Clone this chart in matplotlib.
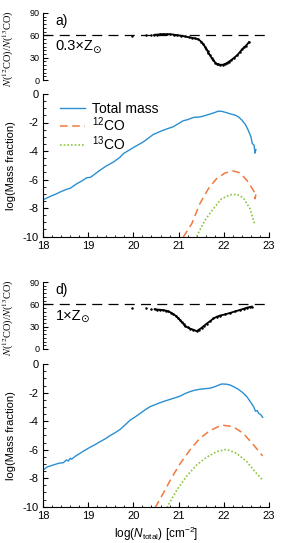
import matplotlib
matplotlib.use("Agg")
import matplotlib.pyplot as plt
from matplotlib.ticker import MultipleLocator

plt.rcParams['font.family'] = ['Liberation Sans', 'DejaVu Sans']
plt.rcParams['mathtext.fontset'] = 'custom'
plt.rcParams['mathtext.rm'] = 'Liberation Sans'
plt.rcParams['mathtext.it'] = 'Liberation Sans:italic'
plt.rcParams['mathtext.bf'] = 'Liberation Sans:bold'

# ---------------- data ----------------
# panel a (0.3 Z_sun): 12CO/13CO column ratio
ratio_a_x = [19.96, 20.28, 20.40, 20.46, 20.52, 20.59, 20.66, 20.74, 20.81, 20.89, 20.96,
             21.05, 21.14, 21.22, 21.29, 21.37, 21.44, 21.50, 21.55, 21.58, 21.61, 21.64,
             21.66, 21.70, 21.73, 21.77, 21.81, 21.84, 21.87, 21.92, 21.98, 22.02, 22.06,
             22.11, 22.17, 22.23, 22.29, 22.35, 22.40, 22.45, 22.49, 22.56]
ratio_a_y = [58.5, 60.0, 60.5, 60.7, 61.0, 61.4, 61.6, 61.6, 61.4, 61.0, 60.3,
             59.5, 58.5, 57.5, 56.7, 55.8, 54.5, 51.5, 48.0, 45.0, 42.0, 39.0,
             36.0, 33.0, 29.5, 26.5, 23.5, 22.0, 21.0, 20.5, 20.5, 21.5, 22.5,
             24.5, 27.0, 30.0, 33.0, 37.0, 41.0, 44.0, 46.0, 51.0]
# panel a: log mass fractions
tot_a_x = [18.00, 18.15, 18.30, 18.40, 18.52, 18.60, 18.75, 18.85, 18.97, 19.05, 19.26,
           19.40, 19.56, 19.70, 19.78, 20.00, 20.22, 20.44, 20.66, 20.88, 21.10, 21.20,
           21.33, 21.45, 21.55, 21.69, 21.80, 21.88, 21.96, 22.06, 22.15, 22.25, 22.33,
           22.40, 22.48, 22.54, 22.60, 22.63, 22.67, 22.69, 22.71]
tot_a_y = [-7.42, -7.20, -7.00, -6.85, -6.69, -6.62, -6.29, -6.12, -5.87, -5.85, -5.35,
           -5.05, -4.77, -4.45, -4.18, -3.76, -3.36, -2.84, -2.54, -2.30, -1.88, -1.80,
           -1.64, -1.62, -1.55, -1.41, -1.30, -1.20, -1.22, -1.31, -1.40, -1.48, -1.62,
           -1.83, -2.15, -2.54, -3.00, -3.47, -3.60, -4.15, -3.90]
co12_a_x = [21.10, 21.29, 21.47, 21.66, 21.84, 22.03, 22.21, 22.36, 22.51, 22.63, 22.67, 22.69, 22.71]
co12_a_y = [-10.05, -9.11, -7.70, -6.64, -5.94, -5.54, -5.40, -5.54, -6.06, -6.64, -6.85, -7.35, -7.05]
co13_a_x = [21.40, 21.58, 21.77, 21.95, 22.14, 22.29, 22.43, 22.58, 22.67, 22.69]
co13_a_y = [-10.0, -8.87, -8.05, -7.35, -7.07, -7.04, -7.28, -8.05, -8.99, -9.20]

# panel d (1 Z_sun)
ratio_d_x = [19.96, 20.28, 20.40, 20.47, 20.52, 20.59, 20.66, 20.72, 20.77, 20.83, 20.88,
             20.94, 20.99, 21.03, 21.07, 21.11, 21.14, 21.20, 21.25, 21.32, 21.40, 21.45,
             21.51, 21.56, 21.62, 21.70, 21.77, 21.85, 21.92, 22.03, 22.14, 22.25, 22.36,
             22.44, 22.51, 22.57, 22.62]
ratio_d_y = [55.0, 55.0, 54.0, 53.5, 53.0, 52.7, 52.3, 51.5, 50.5, 49.0, 47.0,
             44.5, 41.5, 39.0, 36.0, 33.5, 31.0, 29.0, 27.5, 26.0, 24.0, 26.0,
             28.5, 31.0, 34.0, 37.5, 41.0, 43.5, 45.0, 46.5, 48.5, 50.5, 52.5,
             54.0, 55.5, 56.3, 57.0]
tot_d_x = [18.00, 18.10, 18.23, 18.35, 18.45, 18.52, 18.56, 18.60, 18.63, 18.72, 18.82,
           18.92, 19.04, 19.15, 19.26, 19.37, 19.48, 19.60, 19.71, 19.82, 19.93, 20.04,
           20.15, 20.26, 20.37, 20.48, 20.59, 20.70, 20.81, 20.92, 21.04, 21.15, 21.25,
           21.36, 21.47, 21.58, 21.69, 21.80, 21.95, 22.05, 22.14, 22.23, 22.32, 22.42,
           22.51, 22.58, 22.66, 22.70, 22.74, 22.77, 22.82, 22.86]
tot_d_y = [-7.42, -7.20, -7.07, -6.95, -6.91, -6.72, -6.80, -6.60, -6.67, -6.45, -6.25,
           -6.05, -5.83, -5.65, -5.44, -5.25, -5.02, -4.80, -4.57, -4.25, -3.92, -3.70,
           -3.45, -3.20, -2.98, -2.84, -2.70, -2.58, -2.47, -2.36, -2.23, -2.05, -1.93,
           -1.82, -1.76, -1.72, -1.69, -1.58, -1.39, -1.40, -1.46, -1.60, -1.76, -2.00,
           -2.28, -2.60, -2.98, -3.30, -3.25, -3.45, -3.55, -3.73]
co12_d_x = [20.48, 20.66, 20.85, 21.03, 21.25, 21.47, 21.69, 21.95, 22.21, 22.43, 22.66, 22.86]
co12_d_y = [-10.07, -9.06, -7.94, -7.00, -6.02, -5.20, -4.67, -4.27, -4.39, -4.85, -5.67, -6.44]
co13_d_x = [20.74, 20.96, 21.18, 21.40, 21.62, 21.84, 22.06, 22.28, 22.51, 22.69, 22.86]
co13_d_y = [-10.07, -8.83, -7.85, -7.07, -6.53, -6.14, -5.97, -6.25, -6.84, -7.54, -8.13]

ratio_ref = 60
ratio_ticks = [0, 30, 60, 90]
frac_ticks = [0, -2, -4, -6, -8, -10]
x_ticks = [18, 19, 20, 21, 22, 23]

panel_labels = ['a)', 'd)']
metal_labels = ['0.3×Z', '1×Z']
sun_symbol = '⊙'
series_labels = ['Total mass', r'$^{12}$CO', r'$^{13}$CO']

c_tot = '#2b8fd2'
c_12 = '#f07a3e'
c_13 = '#8cc63f'

# ---------------- figure ----------------
W, H = 284, 543
fig = plt.figure(figsize=(W / 100, H / 100), dpi=100)

def rect(top_px, bot_px):
    left, right = 43, 269
    return [left / W, 1 - bot_px / H, (right - left) / W, (bot_px - top_px) / H]

layout = [((13, 80), (94, 236.5)), ((282, 349), (364.2, 506.7))]
datasets = [
    (ratio_a_x, ratio_a_y, tot_a_x, tot_a_y, co12_a_x, co12_a_y, co13_a_x, co13_a_y),
    (ratio_d_x, ratio_d_y, tot_d_x, tot_d_y, co12_d_x, co12_d_y, co13_d_x, co13_d_y),
]

for i, ((tr, br), data) in enumerate(zip(layout, datasets)):
    rx, ry, tx, ty, c12x, c12y, c13x, c13y = data
    # ---- ratio panel ----
    axt = fig.add_axes(rect(*tr))
    axt.set_xlim(18, 23)
    axt.set_ylim(0, 90)
    for s in ['top', 'right', 'bottom']:
        axt.spines[s].set_visible(False)
    axt.spines['left'].set_linewidth(0.8)
    axt.set_xticks([])
    axt.set_yticks(ratio_ticks)
    axt.yaxis.set_minor_locator(MultipleLocator(5))
    axt.tick_params(axis='y', which='major', direction='in', length=3.5, width=0.8,
                    labelsize=6.5, pad=2.5)
    axt.tick_params(axis='y', which='minor', direction='in', length=1.8, width=0.6)
    axt.axhline(ratio_ref, color='black', lw=0.9, dashes=(8, 5))
    axt.plot(rx, ry, 'o', color='black', ms=1.8, mew=0, clip_on=False)
    dense = [k for k, v in enumerate(rx) if v >= 20.44]
    axt.plot([rx[k] for k in dense], [ry[k] for k in dense], '-', color='black', lw=1.3)
    axt.set_ylabel(r'$N$($^{12}$CO)/$N$($^{13}$CO)', fontsize=7.5,
                   family='Liberation Serif', math_fontfamily='stix')
    axt.yaxis.set_label_coords(-0.118, 0.47)
    axt.text(0.055, 0.98, panel_labels[i], transform=axt.transAxes, fontsize=10,
             va='top', ha='left')
    mt = axt.text(0.055, 0.50, metal_labels[i], transform=axt.transAxes, fontsize=10.5,
                  va='center', ha='left')
    axt.annotate(sun_symbol, xy=(1.0, 0.0), xycoords=mt, xytext=(-0.6, -1.2),
                 textcoords='offset points', fontsize=7.5, family='DejaVu Sans',
                 ha='left', va='bottom')

    # ---- mass fraction panel ----
    axb = fig.add_axes(rect(*br))
    axb.set_xlim(18, 23)
    axb.set_ylim(-10, 0)
    for s in ['top', 'right']:
        axb.spines[s].set_visible(False)
    axb.spines['left'].set_linewidth(0.8)
    axb.spines['bottom'].set_linewidth(0.8)
    axb.set_xticks(x_ticks)
    axb.set_yticks(frac_ticks)
    axb.set_yticklabels([str(v) for v in frac_ticks])
    axb.xaxis.set_minor_locator(MultipleLocator(0.2))
    axb.yaxis.set_minor_locator(MultipleLocator(0.5))
    axb.tick_params(which='major', direction='in', length=3.5, width=0.8,
                    labelsize=8, pad=3)
    axb.tick_params(which='minor', direction='in', length=1.8, width=0.6)
    l1, = axb.plot(tx, ty, '-', color=c_tot, lw=1.0)
    l2, = axb.plot(c12x, c12y, color=c_12, lw=1.1, dashes=(5, 3))
    l3, = axb.plot(c13x, c13y, color=c_13, lw=1.2, dashes=(1, 1.2))
    axb.set_ylabel('log(Mass fraction)', fontsize=8)
    axb.yaxis.set_label_coords(-0.12, 0.5)
    if i == 0:
        axb.legend([l1, l2, l3], series_labels, loc='upper left',
                   bbox_to_anchor=(0.05, 0.985), frameon=False, fontsize=10,
                   handlelength=1.8, handletextpad=0.55, labelspacing=0.0,
                   borderaxespad=0.2, borderpad=0.2)
    else:
        axb.set_xlabel(r'log($N_{\mathrm{total}}$) [cm$^{-2}$]', fontsize=8.5)
        axb.xaxis.set_label_coords(0.5, -0.125)

fig.savefig('out.png', dpi=100)
